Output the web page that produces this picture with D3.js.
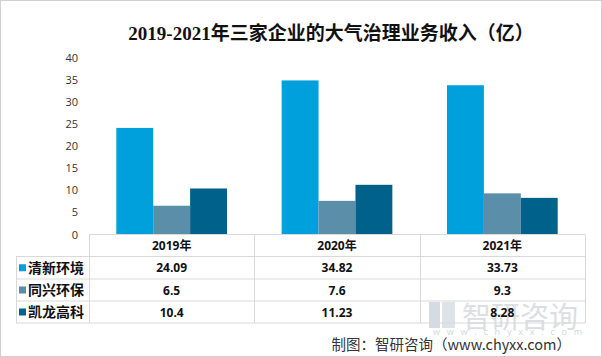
<!DOCTYPE html>
<html><head><meta charset="utf-8">
<script src="https://cdn.jsdelivr.net/npm/d3@7/dist/d3.min.js"></script>
<style>body{margin:0;background:#fff}svg{display:block}</style>
</head><body><svg id="c" width="602" height="357"></svg>
<script>
const years = ["2019年","2020年","2021年"];
const series = ["清新环境","同兴环保","凯龙高科"];
const values = [
  [24.09, 34.82, 33.73],
  [6.5, 7.6, 9.3],
  [10.4, 11.23, 8.28]
];
const labels = [
  ["24.09","34.82","33.73"],
  ["6.5","7.6","9.3"],
  ["10.4","11.23","8.28"]
];
const yTicks = [0,5,10,15,20,25,30,35,40];
const colors = ["#00a0dc","#5b8ea8","#00628a"];
const title = "2019-2021年三家企业的大气治理业务收入（亿）";
const source = "制图：智研咨询（www.chyxx.com）";

const svg = d3.select("#c");
svg.append("rect").attr("x",0.5).attr("y",0.5).attr("width",601).attr("height",356)
  .attr("fill","#fff").attr("stroke","#d0d0d0");

svg.append("text").attr("x",331).attr("y",40).attr("text-anchor","middle")
  .attr("font-family","'Liberation Serif','Noto Sans CJK SC',serif").attr("font-weight","bold")
  .attr("font-size",19).attr("fill","#111").text(title);

const x0 = d3.scaleBand().domain(years).range([89,585]);
const x1 = d3.scaleBand().domain(series).range([0,x0.bandwidth()]).paddingInner(0).paddingOuter(0.74);
const y = d3.scaleLinear().domain([0,40]).range([234.5,57.5]);

const yAxis = svg.append("g").attr("transform","translate(78,0)")
  .call(d3.axisLeft(y).tickValues(yTicks).tickSize(0).tickPadding(0));
yAxis.select(".domain").remove();
yAxis.selectAll("text").attr("font-family","'Open Sans',sans-serif").attr("font-size",11).attr("fill","#333");

// watermark
const wm = svg.append("g").attr("opacity",0.6);
wm.append("rect").attr("x",429).attr("y",302).attr("width",11).attr("height",26).attr("fill","#b9c4d4");
wm.append("rect").attr("x",442).attr("y",302).attr("width",13).attr("height",26).attr("fill","#c9d1dc");
wm.append("text").attr("x",462).attr("y",328).attr("font-family","'Noto Sans CJK SC',sans-serif")
  .attr("font-size",29).attr("fill","#c4c9cf").text("智研咨询");
wm.append("text").attr("x",433).attr("y",335).attr("font-family","'Open Sans',sans-serif")
  .attr("font-size",9).attr("letter-spacing",6.8).attr("fill","#b8bcc2").text("www.chyxx.com");

// bars
series.forEach((s,si)=>{
  svg.append("g").selectAll("rect").data(years).join("rect")
    .attr("x",d=>x0(d)+x1(s)).attr("width",x1.bandwidth())
    .attr("y",(d,i)=>y(values[si][i])).attr("height",(d,i)=>y(0)-y(values[si][i]))
    .attr("fill",colors[si]);
});

// table
const rowY = [234.5,256.5,279,301,323];
const tg = svg.append("g").attr("stroke","#d9d9d9").attr("stroke-width",1);
tg.append("line").attr("x1",89).attr("x2",585).attr("y1",rowY[0]).attr("y2",rowY[0]);
for(let r=1;r<rowY.length;r++){
  tg.append("line").attr("x1",16).attr("x2",585).attr("y1",rowY[r]).attr("y2",rowY[r]);
}
tg.append("line").attr("x1",16.5).attr("x2",16.5).attr("y1",rowY[1]).attr("y2",rowY[4]);
[89,...years.map(d=>x0(d)+x0.bandwidth())].forEach(xv=>{
  tg.append("line").attr("x1",Math.round(xv)+0.5).attr("x2",Math.round(xv)+0.5).attr("y1",rowY[0]).attr("y2",rowY[4]);
});
const ff = "'Open Sans','Noto Sans CJK SC',sans-serif";
svg.append("g").selectAll("text").data(years).join("text")
  .attr("x",d=>x0(d)+x0.bandwidth()/2).attr("y",(rowY[0]+rowY[1])/2+4.5)
  .attr("text-anchor","middle").attr("font-family",ff).attr("font-weight","bold")
  .attr("font-size",12).attr("fill","#111").text(d=>d);
series.forEach((s,si)=>{
  const cy = (rowY[si+1]+rowY[si+2])/2;
  svg.append("rect").attr("x",19).attr("y",cy-3.5).attr("width",7).attr("height",7).attr("fill",colors[si]);
  svg.append("text").attr("x",28).attr("y",cy+5).attr("font-family","'Noto Sans CJK SC',sans-serif")
    .attr("font-weight","bold").attr("font-size",14).attr("fill","#111").text(s);
  svg.append("g").selectAll("text").data(years).join("text")
    .attr("x",d=>x0(d)+x0.bandwidth()/2).attr("y",cy+4.5)
    .attr("text-anchor","middle").attr("font-family",ff).attr("font-weight","bold")
    .attr("font-size",12).attr("fill","#111").text((d,i)=>labels[si][i]);
});

svg.append("text").attr("x",571).attr("y",350).attr("text-anchor","end")
  .attr("font-family","'Noto Sans CJK SC',sans-serif").attr("font-size",14.5).attr("fill","#333").text(source);
</script></body></html>
